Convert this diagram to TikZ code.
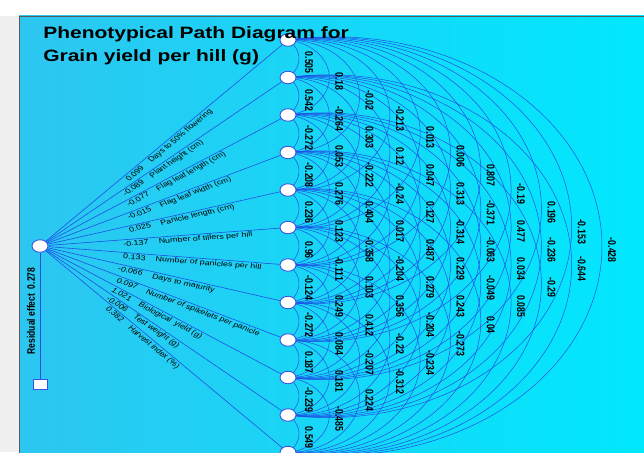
\documentclass[tikz,border=0pt]{standalone}
\usepackage{fontspec}
\setmainfont{Liberation Sans}
\pgfdeclarelayer{panel}
\pgfdeclarelayer{wires}
\pgfsetlayers{panel,wires,main}
\definecolor{wire}{RGB}{30,80,230}
\definecolor{rim}{RGB}{55,85,225}
\definecolor{cyanL}{RGB}{45,198,240}
\definecolor{cyanR}{RGB}{0,232,254}
\begin{document}
\begin{tikzpicture}[x=1pt,y=-1pt,
	stretch/.style={xscale=1.28},
	trait/.style={circle,draw=rim,fill=white,line width=0.9pt,minimum size=12.5pt,inner sep=0pt,xscale=1.28},
	resbox/.style={rectangle,draw=rim,fill=white,line width=0.9pt,minimum width=11pt,minimum height=10pt,inner sep=0pt,xscale=1.28},
	pathline/.style={wire,line width=0.6pt},
	corrline/.style={wire,line width=0.5pt},
	corrlab/.style={xscale=1.28,rotate=-90,font=\bfseries\fontsize{8.8}{9}\selectfont,inner sep=0pt},
	pathlab/.style={font=\fontsize{7}{8}\selectfont,inner sep=1.2pt,anchor=north west}]
	\useasboundingbox (0,0) rectangle (644,452);
	% nodes
	\node[trait] (src) at (40,246) {};
	\node[resbox] (res) at (40,384) {};
	\foreach \i in {1,...,12}
		\node[trait] (t\i) at (288,{40+37.5*(\i-1)}) {};
	\node[stretch,anchor=base west,inner sep=0pt,font=\bfseries\fontsize{16.4}{20}\selectfont] (title1) at (43,38.5) {Phenotypical Path Diagram for};
	\node[stretch,anchor=base west,inner sep=0pt,font=\bfseries\fontsize{16.4}{20}\selectfont] (title2) at (43,61.5) {Grain yield per hill (g)};
	\node[stretch,rotate=90,inner sep=0pt,font=\bfseries\fontsize{8.5}{9}\selectfont] (reslab) at (31,311) {Residual effect\ \ 0.278};
	\begin{pgfonlayer}{wires}
		\draw[pathline] (src) -- (res);
	\end{pgfonlayer}
	% direct paths
	\foreach \i/\cf/\lab/\xs in {1/0.099/Days to 50\% flowering/122,2/-0.089/Plant height (cm)/119,3/-0.077/Flag leaf length (cm)/123,4/-0.015/Flag leaf width (cm)/124,5/0.025/Panicle length (cm)/126,6/-0.137/Number of tillers per hill/121,7/0.133/Number of panicles per hill/122,8/-0.066/Days to maturity/118,9/0.097/Number of spikelets per panicle/118,10/1.021/Biological\ \ yield (g)/114,11/-0.006/Test weight (g)/110,12/0.382/Harvest index (\%)/110}{
		\pgfmathsetmacro\ang{atan2(246-(40+37.5*(\i-1)),193.75)}
		\pgfmathsetmacro\pp{(\xs-40)/248}
		\begin{pgfonlayer}{wires}
			\draw[pathline] (src) -- (t\i);
		\end{pgfonlayer}
		\path (src.center) -- (t\i.center) node[pathlab,pos=\pp,stretch,rotate=\ang] (p\i) {\cf\hspace{8pt}\lab};
	}
	% correlations
	\foreach \k/\vals in {1/{0.505,0.542,-0.272,-0.208,0.236,0.96,-0.124,-0.272,0.187,-0.239,0.549},
		2/{0.18,-0.264,0.053,0.276,0.123,-0.111,0.249,0.084,0.181,-0.485},
		3/{-0.02,0.303,-0.222,0.404,-0.358,0.103,0.412,-0.207,0.224},
		4/{-0.213,0.12,-0.24,0.017,-0.204,0.356,-0.22,-0.312},
		5/{0.013,0.047,0.127,0.487,0.279,-0.204,-0.234},
		6/{0.006,0.313,-0.314,0.229,0.243,-0.273},
		7/{0.807,-0.371,-0.063,-0.049,0.04},
		8/{-0.19,0.477,0.034,0.085},
		9/{0.196,-0.236,-0.29},
		10/{-0.153,-0.644},
		11/{-0.428}}{
		\foreach \val [count=\i] in \vals {
			\pgfmathtruncatemacro\j{\i+\k}
			\pgfmathsetmacro\hh{18.75*\k}
			\pgfmathsetmacro\dd{(11+30.3*(\k-1))/1.28}
			\pgfmathsetmacro\rr{(\hh*(\hh/\dd)+\dd)/2}
			\pgfmathsetmacro\ta{atan2(\hh,\rr-\dd)}
			\pgfmathsetmacro\rx{1.28*\rr}
			\pgfmathsetmacro\ym{40+37.5*(\i-1)+\hh}
			\begin{pgfonlayer}{wires}
				\draw[corrline] (t\i.center) arc[start angle=\ta,end angle=-\ta,x radius=\rx pt,y radius=\rr pt];
			\end{pgfonlayer}
			\node[corrlab] (c\i-\j) at ({309+30.3*(\k-1)},{\ym+4}) {\val};
		}
	}
	\begin{pgfonlayer}{panel}
		\fill[white] (0,0) rectangle (644,452);
		\fill[gray!12] (0,16) rectangle (19,452);
		\shade[left color=cyanL,right color=cyanR] (19,16) rectangle (644,452);
		\draw[gray!70!black,line width=0.8pt] (19,460) -- (19,16) -- (650,16);
	\end{pgfonlayer}
\end{tikzpicture}
\end{document}
